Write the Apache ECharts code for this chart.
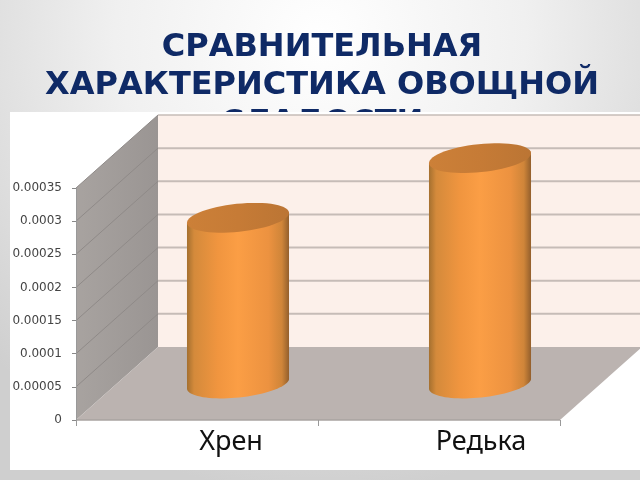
<!DOCTYPE html>
<html><head><meta charset="utf-8">
<style>html,body{margin:0;padding:0;background:#fff}#c{width:640px;height:480px}</style>
<script src="https://cdn.jsdelivr.net/npm/echarts@6/dist/echarts.min.js"></script>
</head><body><div id="c"></div>
<script>
var titleText = ['СРАВНИТЕЛЬНАЯ','ХАРАКТЕРИСТИКА ОВОЩНОЙ','СЛАДОСТИ'];
var categories = ['Хрен','Редька'];
var values = [0.00025,0.00034];
var yTicks = [0,0.00005,0.0001,0.00015,0.0002,0.00025,0.0003,0.00035];
var DX = 82, DY = -73;
function ellipsePts(cx,cy,rx,ry,rot,from,to,n){
  var p=[];var c=Math.cos(rot),s=Math.sin(rot);
  for(var i=0;i<=n;i++){var t=from+(to-from)*i/n;var x=rx*Math.cos(t),y=ry*Math.sin(t);
    p.push([cx+x*c-y*s,cy+x*s+y*c]);}
  return p;
}
function renderFrame(params,api){
  var cs=params.coordSys, L=cs.x,R=cs.x+cs.width,T=cs.y,B=cs.y+cs.height;
  var ch=[
   {type:'polygon',shape:{points:[[L,T],[L+DX,T+DY],[L+DX,B+DY],[L,B]]},style:{fill:{type:'linear',x:0,y:0,x2:1,y2:0,colorStops:[{offset:0,color:'#a8a3a0'},{offset:1,color:'#9a9593'}]}}},
   {type:'polygon',shape:{points:[[L+DX,T+DY],[R+DX,T+DY],[R+DX,B+DY],[L+DX,B+DY]]},style:{fill:'#fcf0ea'}},
   {type:'polygon',shape:{points:[[L,B],[L+DX,B+DY],[R+DX,B+DY],[R,B]]},style:{fill:'#bbb3b0'}}
  ];
  yTicks.forEach(function(v,i){
    var y=api.coord([0,v])[1];
    if(i>0){
      ch.push({type:'line',shape:{x1:L,y1:y,x2:L+DX,y2:y+DY},style:{stroke:'#8f8a88',lineWidth:1}});
      ch.push({type:'line',shape:{x1:L+DX,y1:y+DY,x2:R+DX,y2:y+DY},style:{stroke:'#c6bcb7',lineWidth:i==yTicks.length-1?1.5:2}});
    }
  });
  ch.push({type:'line',shape:{x1:L,y1:B,x2:R,y2:B},style:{stroke:'#a9a3a0',lineWidth:1.5}});
  return {type:'group',children:ch};
}
function renderCyl(params,api){
  var idx=api.value(0), top=api.coord([idx,api.value(1)]), base=api.coord([idx,0]);
  var band=api.size([1,0])[0];
  var rx=band*0.212, ry=14, rot=-6*Math.PI/180;
  var cx=top[0]+DX/2, yt=top[1]+DY/2, yb=base[1]+DY/2;
  var front=ellipsePts(cx,yb,rx,ry,rot,0,Math.PI,40);
  var rim=ellipsePts(cx,yt,rx,ry,rot,Math.PI,2*Math.PI,1);
  var body=rim.concat(front);
  return {type:'group',children:[
    {type:'polygon',shape:{points:body},style:{fill:{type:'linear',x:0,y:0,x2:1,y2:0,colorStops:[
      {offset:0,color:'#a5702f'},{offset:0.07,color:'#d48a3b'},{offset:0.3,color:'#f0953f'},{offset:0.5,color:'#fb9e45'},
      {offset:0.8,color:'#ec9240'},{offset:0.93,color:'#cf8539'},{offset:1,color:'#935f2c'}]}}},
    {type:'polygon',shape:{points:ellipsePts(cx,yt,rx,ry,rot,0,2*Math.PI,60)},style:{fill:{type:'linear',x:0,y:0,x2:1,y2:0,colorStops:[
      {offset:0,color:'#cc8038'},{offset:0.5,color:'#c67b36'},{offset:1,color:'#bb7534'}]}}}
  ]};
}
var chart=echarts.init(document.getElementById('c'),null,{renderer:'canvas'});
chart.setOption({
  animation:false,
  backgroundColor:{type:'radial',x:0.5,y:0.08,r:0.95,colorStops:[{offset:0,color:'#ffffff'},{offset:0.45,color:'#f0f0f0'},{offset:1,color:'#cfcfcf'}]},
  title:{text:titleText.join('\n'),left:317,top:24,z:6,textAlign:'center',textStyle:{fontFamily:'DejaVu Sans',fontWeight:'bold',fontSize:32,lineHeight:38,color:'#0f2a66'}},
  graphic:[{type:'rect',z:7,shape:{x:10,y:112,width:630,height:358},style:{fill:'#ffffff'}}],
  grid:{left:76,right:80,top:188,bottom:60},
  xAxis:{type:'category',data:categories,z:20,
    axisLine:{show:false},
    axisTick:{show:true,alignWithLabel:false,length:6,lineStyle:{color:'#999'}},
    axisLabel:{margin:9,interval:0,formatter:function(v,i){return (i===0?'{h|':'{r|')+v+'}';},
      rich:{h:{fontFamily:'Noto Sans',fontSize:27,color:'#111',padding:[0,0,0,68]},
            r:{fontFamily:'Noto Sans',fontSize:27,color:'#111',padding:[0,0,0,84]}}}},
  yAxis:{type:'value',min:0,max:0.00035,interval:0.00005,z:20,
    axisLine:{show:true,lineStyle:{color:'#999'}},
    axisTick:{show:true,length:4,lineStyle:{color:'#888'}},
    splitLine:{show:false},
    axisLabel:{margin:14,fontFamily:'DejaVu Sans',fontSize:12,color:'#444',formatter:function(v){return String(yTicks[Math.round(v/0.00005)]);}}},
  series:[
    {type:'custom',name:'frame',z:8,silent:true,renderItem:renderFrame,data:[[0,0]],encode:{x:0,y:1},clip:false},
    {type:'custom',name:'values',z:9,silent:true,renderItem:renderCyl,clip:false,encode:{x:0,y:1},
      data:values.map(function(v,i){return [i,v];})}
  ]
});
</script></body></html>
